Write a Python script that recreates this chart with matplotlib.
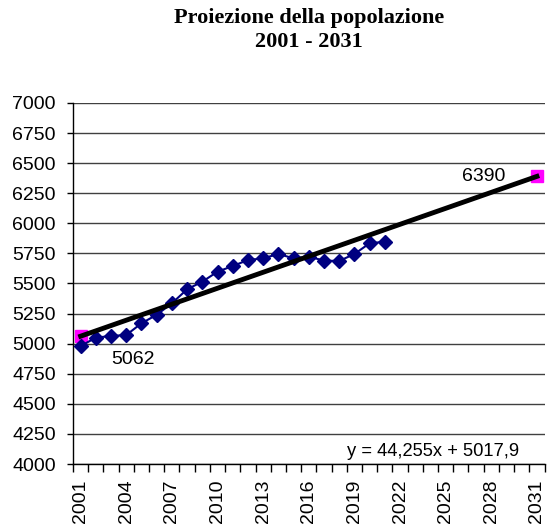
import numpy as np
import matplotlib.pyplot as plt
from matplotlib.ticker import MultipleLocator

# Popolazione osservata 2001-2021
anni = np.arange(2001, 2022)
popolazione = [4980, 5050, 5064, 5072, 5169, 5240, 5335, 5452, 5515, 5598, 5645,
               5695, 5709, 5745, 5709, 5723, 5690, 5687, 5745, 5834, 5847]

# Estremi della linea di tendenza (y = 44,255x + 5017,9)
anni_tendenza = [2001, 2031]
valori_tendenza = [5062, 6390]

etichette_anni = list(range(2001, 2032, 3))
equazione = 'y = 44,255x + 5017,9'

plt.rcParams['font.family'] = ['Liberation Sans', 'DejaVu Sans']

fig = plt.figure(figsize=(5.47, 5.24), dpi=100)
ax = fig.add_axes([0.1335, 0.1145, 0.862, 0.689])

ax.plot(anni, popolazione, color='#000080', linewidth=1.5, marker='D',
        markersize=7, zorder=3)
ax.plot(anni_tendenza, valori_tendenza, color='black', linewidth=3.5, zorder=4)
ax.plot(anni_tendenza, valori_tendenza, linestyle='none', marker='s',
        markersize=8.5, color='#FF00FF', zorder=2)

ax.annotate(str(valori_tendenza[0]), (anni_tendenza[0], valori_tendenza[0]),
            xytext=(22, -16.5), textcoords='offset points', fontsize=14,
            ha='left', va='center')
ax.annotate(str(valori_tendenza[1]), (anni_tendenza[1], valori_tendenza[1]),
            xytext=(-23, 0), textcoords='offset points', fontsize=14,
            ha='right', va='center')
ax.text(0.947, 0.036, equazione, transform=ax.transAxes, fontsize=13.2,
        ha='right', va='center', zorder=5,
        bbox=dict(facecolor='white', edgecolor='none', pad=1))

ax.set_xlim(2000.5, 2031.5)
ax.set_ylim(4000, 7000)
ax.yaxis.set_major_locator(MultipleLocator(250))
ax.set_xticks(etichette_anni)
ax.set_xticklabels([str(a) for a in etichette_anni], rotation=90, fontsize=14)
ax.set_xticks(np.arange(2000.5, 2032, 1), minor=True)
ax.tick_params(axis='x', which='major', length=0, pad=11)
ax.tick_params(axis='x', which='minor', length=5.5, width=1, direction='out')
ax.tick_params(axis='y', length=4.5, width=1, labelsize=14, pad=8)

ax.grid(axis='y', color='#404040', linewidth=1)
ax.set_axisbelow(True)
for lato in ['top', 'right']:
    ax.spines[lato].set_visible(False)
ax.spines['left'].set_linewidth(1)
ax.spines['bottom'].set_linewidth(1)

fig.suptitle('Proiezione della popolazione\n2001 - 2031', x=0.565, y=0.985,
             fontsize=16, fontweight='bold', family='Liberation Serif',
             linespacing=1.3)

fig.savefig('out.png', dpi=100)
